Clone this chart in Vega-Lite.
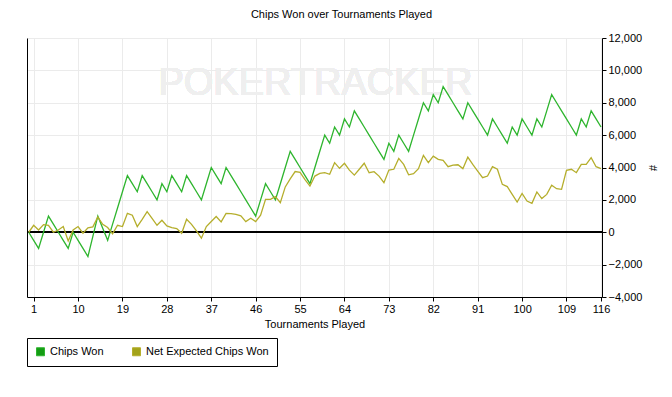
{
  "$schema": "https://vega.github.io/schema/vega-lite/v6.json",
  "width": 575,
  "height": 259,
  "autosize": {"type": "none"},
  "padding": {"left": 27, "top": 38, "right": 70, "bottom": 100},
  "background": "white",
  "title": {"text": "Chips Won over Tournaments Played", "fontSize": 11, "font": "Liberation Sans", "fontWeight": "normal", "color": "black", "offset": 12, "dx": 27},
  "config": {"view": {"stroke": null}, "font": "Liberation Sans"},
  "data": {"values": [
    {"t":0,"won":0,"ev":0},{"t":1,"won":-500,"ev":430},{"t":2,"won":-1000,"ev":140},{"t":3,"won":0,"ev":470},{"t":4,"won":1000,"ev":430},
    {"t":5,"won":500,"ev":0},{"t":6,"won":0,"ev":140},{"t":7,"won":-500,"ev":350},{"t":8,"won":-1000,"ev":-540},{"t":9,"won":0,"ev":140},
    {"t":10,"won":-500,"ev":350},{"t":11,"won":-1000,"ev":-60},{"t":12,"won":-1500,"ev":270},{"t":13,"won":-250,"ev":330},{"t":14,"won":1000,"ev":940},
    {"t":15,"won":250,"ev":490},{"t":16,"won":-500,"ev":290},{"t":17,"won":500,"ev":-100},{"t":18,"won":1500,"ev":430},{"t":19,"won":2500,"ev":350},
    {"t":20,"won":3500,"ev":1170},{"t":21,"won":3000,"ev":1050},{"t":22,"won":2500,"ev":350},{"t":23,"won":3500,"ev":800},{"t":24,"won":3000,"ev":1275},
    {"t":25,"won":2500,"ev":850},{"t":26,"won":2000,"ev":430},{"t":27,"won":3000,"ev":740},{"t":28,"won":2500,"ev":390},{"t":29,"won":3500,"ev":290},
    {"t":30,"won":3000,"ev":230},{"t":31,"won":2500,"ev":-60},{"t":32,"won":3500,"ev":800},{"t":33,"won":3000,"ev":490},{"t":34,"won":2500,"ev":80},
    {"t":35,"won":2000,"ev":-370},{"t":36,"won":3000,"ev":350},{"t":37,"won":4000,"ev":660},{"t":38,"won":3500,"ev":970},{"t":39,"won":3000,"ev":640},
    {"t":40,"won":4000,"ev":1170},{"t":41,"won":3500,"ev":1150},{"t":42,"won":3000,"ev":1110},{"t":43,"won":2500,"ev":1010},{"t":44,"won":2000,"ev":660},
    {"t":45,"won":1500,"ev":860},{"t":46,"won":1000,"ev":660},{"t":47,"won":2000,"ev":1050},{"t":48,"won":3000,"ev":2035},{"t":49,"won":2500,"ev":2035},
    {"t":50,"won":2000,"ev":2200},{"t":51,"won":3000,"ev":1830},{"t":52,"won":4000,"ev":2800},{"t":53,"won":5000,"ev":3300},{"t":54,"won":4500,"ev":3750},
    {"t":55,"won":4000,"ev":3700},{"t":56,"won":3500,"ev":3250},{"t":57,"won":3000,"ev":2850},{"t":58,"won":4000,"ev":3470},{"t":59,"won":5000,"ev":3640},
    {"t":60,"won":6000,"ev":3680},{"t":61,"won":5500,"ev":3580},{"t":62,"won":6500,"ev":4300},{"t":63,"won":6000,"ev":3950},{"t":64,"won":7000,"ev":4260},
    {"t":65,"won":6500,"ev":3840},{"t":66,"won":7500,"ev":3530},{"t":67,"won":7000,"ev":3890},{"t":68,"won":6500,"ev":4260},{"t":69,"won":6000,"ev":3680},
    {"t":70,"won":5500,"ev":3740},{"t":71,"won":5000,"ev":3470},{"t":72,"won":4500,"ev":3060},{"t":73,"won":5500,"ev":3840},{"t":74,"won":5000,"ev":3890},
    {"t":75,"won":6000,"ev":4560},{"t":76,"won":5500,"ev":4190},{"t":77,"won":5000,"ev":3550},{"t":78,"won":6000,"ev":3620},{"t":79,"won":7000,"ev":3930},
    {"t":80,"won":8000,"ev":4750},{"t":81,"won":7500,"ev":4300},{"t":82,"won":8500,"ev":4700},{"t":83,"won":8000,"ev":4500},{"t":84,"won":9000,"ev":4440},
    {"t":85,"won":8500,"ev":4050},{"t":86,"won":8000,"ev":4150},{"t":87,"won":7500,"ev":4170},{"t":88,"won":7000,"ev":3930},{"t":89,"won":8000,"ev":4640},
    {"t":90,"won":7500,"ev":4190},{"t":91,"won":7000,"ev":3780},{"t":92,"won":6500,"ev":3370},{"t":93,"won":6000,"ev":3470},{"t":94,"won":7000,"ev":4050},
    {"t":95,"won":6500,"ev":3890},{"t":96,"won":6000,"ev":2960},{"t":97,"won":5500,"ev":2820},{"t":98,"won":6500,"ev":2340},{"t":99,"won":6000,"ev":1870},
    {"t":100,"won":7000,"ev":2400},{"t":101,"won":6500,"ev":1930},{"t":102,"won":6000,"ev":1790},{"t":103,"won":7000,"ev":2490},{"t":104,"won":6500,"ev":2080},
    {"t":105,"won":7500,"ev":2340},{"t":106,"won":8500,"ev":2900},{"t":107,"won":8000,"ev":2690},{"t":108,"won":7500,"ev":2650},{"t":109,"won":7000,"ev":3820},
    {"t":110,"won":6500,"ev":3890},{"t":111,"won":6000,"ev":3680},{"t":112,"won":7000,"ev":4190},{"t":113,"won":6500,"ev":4190},{"t":114,"won":7500,"ev":4610},
    {"t":115,"won":7000,"ev":4050},{"t":116,"won":6500,"ev":3930}
  ]},
  "layer": [
    {
      "mark": {"type": "text", "text": "POKERTRACKER", "fontSize": 38, "font": "Liberation Sans", "color": "#efefef", "align": "center", "baseline": "middle"},
      "encoding": {
        "x": {"datum": 58.1, "type": "quantitative", "scale": {"domain": [-0.35, 116.2], "nice": false, "zero": false},
          "axis": {"values": [1, 10, 19, 28, 37, 46, 55, 64, 73, 82, 91, 100, 109, 116], "title": "Tournaments Played",
            "grid": true, "gridColor": "#ebebeb", "tickColor": "black", "domainColor": "black", "labelColor": "black",
            "labelFontSize": 11, "tickSize": 4, "labelPadding": 2, "titleFontSize": 11, "titleFontWeight": "normal",
            "titleColor": "black", "titlePadding": 4, "labelFlush": false}},
        "y": {"datum": 9150, "type": "quantitative", "scale": {"domain": [-4000, 12000], "nice": false}, "axis": null}
      }
    },
    {
      "mark": {"type": "rule", "color": "black", "strokeWidth": 1},
      "encoding": {
        "y": {"datum": 0, "type": "quantitative", "scale": {"domain": [-4000, 12000], "nice": false},
          "axis": {"orient": "left", "labels": false, "ticks": false, "grid": false, "title": null, "domainColor": "black", "domainWidth": 1}}
      }
    },
    {
      "transform": [{"fold": ["won", "ev"], "as": ["series", "v"]}],
      "mark": {"type": "line", "strokeWidth": 1.3},
      "encoding": {
        "x": {"field": "t", "type": "quantitative", "scale": {"domain": [-0.35, 116.2], "nice": false, "zero": false},
          "axis": {"values": [1, 10, 19, 28, 37, 46, 55, 64, 73, 82, 91, 100, 109, 116], "title": "Tournaments Played",
            "grid": true, "gridColor": "#ebebeb", "tickColor": "black", "domainColor": "black", "labelColor": "black",
            "labelFontSize": 11, "tickSize": 4, "labelPadding": 2, "titleFontSize": 11, "titleFontWeight": "normal",
            "titleColor": "black", "titlePadding": 4, "labelFlush": false}},
        "y": {"field": "v", "type": "quantitative", "scale": {"domain": [-4000, 12000], "nice": false},
          "axis": {"orient": "right", "values": [-4000, -2000, 0, 2000, 4000, 6000, 8000, 10000, 12000], "format": ",.0f",
            "title": "#", "titleAngle": 90, "titleFontSize": 11, "titleFontWeight": "normal", "titleColor": "black", "titlePadding": 5,
            "grid": true, "gridColor": "#ebebeb", "tickColor": "black", "domainColor": "black", "labelColor": "black",
            "labelFontSize": 11, "tickSize": 4, "labelPadding": 2}},
        "color": {"field": "series", "type": "nominal", "sort": ["won", "ev"],
          "scale": {"domain": ["won", "ev"], "range": ["#2eb52e", "#b5ae2c"]},
          "legend": {"orient": "none", "legendX": 0, "legendY": 300, "direction": "horizontal", "title": null,
            "symbolType": "square", "symbolSize": 64, "symbolStrokeWidth": 1, "symbolStrokeColor": "black",
            "labelFontSize": 11, "labelColor": "black", "labelOffset": 4, "columnPadding": 26, "padding": 8,
            "strokeColor": "black", "fillColor": "white",
            "labelExpr": "datum.value === 'won' ? 'Chips Won' : 'Net Expected Chips Won'",
            "encode": {"symbols": {"update": {"fill": {"signal": "datum.value === 'won' ? '#149c14' : '#a3a31a'"}, "stroke": {"value": "black"}, "opacity": {"value": 1}, "fillOpacity": {"value": 1}}}}}}
      }
    }
  ],
  "resolve": {"axis": {"y": "independent"}}
}
